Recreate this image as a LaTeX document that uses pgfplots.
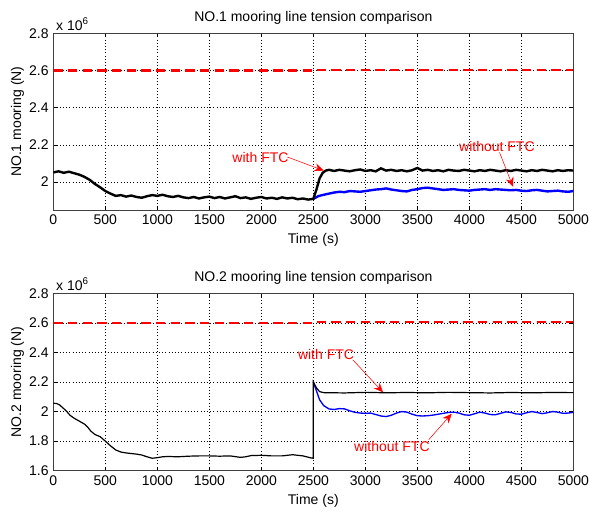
\documentclass[border=0pt]{standalone}
\usepackage{pgfplots}
\pgfplotsset{compat=1.18}
\usepackage{fontspec}
\setmainfont{Liberation Sans}
\usetikzlibrary{arrows.meta}

% data in units of 10^6 N
\pgfplotstableread{
t v
0 2.052
50 2.058
100 2.050
150 2.056
200 2.048
250 2.040
300 2.028
350 2.012
400 1.990
450 1.972
500 1.952
550 1.938
600 1.926
650 1.930
700 1.922
750 1.928
800 1.920
850 1.916
900 1.924
950 1.930
1000 1.926
1050 1.932
1100 1.924
1150 1.920
1200 1.926
1250 1.918
1300 1.914
1350 1.920
1400 1.912
1450 1.918
1500 1.922
1550 1.914
1600 1.920
1650 1.912
1700 1.918
1750 1.924
1800 1.914
1850 1.918
1900 1.910
1950 1.916
2000 1.920
2050 1.912
2100 1.916
2150 1.910
2200 1.918
2250 1.912
2300 1.916
2350 1.908
2400 1.912
2450 1.906
2500 1.910
2530 1.960
2560 2.020
2590 2.050
2620 2.062
2650 2.066
2700 2.060
2750 2.066
2800 2.062
2850 2.058
2900 2.064
2950 2.068
3000 2.060
3050 2.064
3100 2.058
3150 2.074
3200 2.062
3250 2.066
3300 2.060
3350 2.064
3400 2.058
3450 2.064
3500 2.076
3550 2.062
3600 2.066
3650 2.060
3700 2.064
3750 2.058
3800 2.066
3850 2.062
3900 2.060
3950 2.066
4000 2.062
4050 2.058
4100 2.064
4150 2.060
4200 2.066
4250 2.062
4300 2.058
4350 2.064
4400 2.060
4450 2.066
4500 2.062
4550 2.058
4600 2.064
4650 2.060
4700 2.066
4750 2.062
4800 2.058
4850 2.064
4900 2.060
4950 2.064
5000 2.062
}\topblack

\pgfplotstableread{
t v
2500 1.910
2550 1.925
2600 1.932
2650 1.938
2700 1.944
2750 1.948
2800 1.946
2850 1.952
2900 1.950
2950 1.948
3000 1.952
3050 1.956
3100 1.960
3150 1.962
3200 1.966
3250 1.960
3300 1.956
3350 1.952
3400 1.950
3450 1.958
3500 1.962
3550 1.968
3600 1.970
3650 1.966
3700 1.962
3750 1.958
3800 1.960
3850 1.962
3900 1.958
3950 1.956
4000 1.954
4050 1.958
4100 1.960
4150 1.962
4200 1.958
4250 1.962
4300 1.960
4350 1.958
4400 1.956
4450 1.958
4500 1.954
4550 1.952
4600 1.956
4650 1.958
4700 1.954
4750 1.950
4800 1.952
4850 1.954
4900 1.950
4950 1.948
5000 1.952
}\topblue

\pgfplotstableread{
t v
0 2.056
30 2.055
60 2.045
100 2.020
130 2.000
160 1.975
200 1.955
250 1.935
300 1.915
330 1.895
360 1.868
400 1.845
450 1.830
500 1.800
550 1.768
600 1.740
650 1.726
700 1.720
750 1.716
800 1.712
850 1.706
900 1.694
950 1.684
1000 1.688
1050 1.694
1100 1.696
1200 1.694
1300 1.698
1400 1.700
1500 1.700
1600 1.698
1700 1.700
1800 1.690
1850 1.694
1900 1.702
2000 1.704
2100 1.700
2200 1.700
2300 1.708
2400 1.700
2480 1.686
2500 1.684
2500 2.200
2530 2.160
2560 2.135
2600 2.128
2800 2.126
3000 2.130
3200 2.127
3400 2.129
3600 2.127
3800 2.130
4000 2.128
4200 2.126
4400 2.129
4600 2.127
4800 2.129
5000 2.128
}\botblack

\pgfplotstableread{
t v
2500 2.200
2530 2.140
2560 2.080
2600 2.040
2650 2.018
2700 2.014
2750 2.020
2800 2.018
2850 2.005
2900 1.995
2950 1.990
3000 1.988
3050 1.990
3100 1.980
3150 1.970
3200 1.966
3250 1.975
3300 1.990
3350 2.000
3400 1.996
3450 1.982
3500 1.972
3550 1.970
3600 1.972
3650 1.976
3700 1.982
3750 1.988
3800 1.994
3850 1.996
3900 1.990
3950 1.978
4000 1.975
4050 1.985
4100 1.996
4150 1.990
4200 1.980
4250 1.978
4300 1.988
4350 1.998
4400 1.994
4450 1.984
4500 1.982
4550 1.992
4600 2.000
4650 1.994
4700 1.986
4750 1.992
4800 2.000
4850 1.996
4900 1.988
4950 1.990
5000 1.994
}\botblue

\definecolor{mred}{rgb}{1,0,0}
\tikzset{
  ann/.style={mred, line width=0.4pt, -{Stealth[length=7pt,width=6pt]}},
}
\pgfplotsset{
  mlab/.style={
    scale only axis, width=390pt, height=132.5pt,
    xmin=0, xmax=5000, xtick={0,500,...,5000},
    font=\fontsize{10.5}{12}\selectfont,
    /pgf/number format/assume math mode=true,
    /pgf/number format/1000 sep={},
    grid=major,
    major grid style={black, dash pattern=on 0.6pt off 1.8pt, line width=0.4pt},
    tick style={black, line width=0.4pt},
    major tick length=3pt,
    axis line style={black!75, line width=0.6pt},
    xlabel={Time (s)},
    xlabel style={yshift=0pt},
    ylabel style={yshift=-3pt},
    title style={yshift=-3pt},
    every axis title/.append style={font=\fontsize{10.5}{12}\selectfont},
    clip mode=individual,
  },
}

\begin{document}
\begin{tikzpicture}
\useasboundingbox (-40pt,-225.75pt) rectangle (401.75pt,157.5pt);

\begin{axis}[mlab, at={(0,0)},
  ymin=1.85, ymax=2.8,
  ytick={2,2.2,2.4,2.6,2.8},
  yticklabels={2,2.2,2.4,2.6,2.8},
  ylabel={NO.1 mooring (N)},
  title={NO.1 mooring line tension comparison}]
\addplot[color=mred, line width=1.8pt, dash pattern={on 7pt off 4pt}] coordinates {(0,2.6) (2500,2.6) (2500,2.604) (5000,2.604)};
\addplot[blue, line width=1.8pt] table[x=t,y=v] {\topblue};
\addplot[black, line width=1.8pt] table[x=t,y=v] {\topblack};
\node[mred, anchor=west, inner sep=0pt] at (axis cs:1720,2.135) {with FTC};
\draw[ann] (axis cs:2250,2.135) -- (axis cs:2600,2.062);
\node[mred, anchor=west, inner sep=0pt] at (axis cs:3900,2.19) {without FTC};
\draw[ann] (axis cs:4290,2.16) -- (axis cs:4420,1.975);
\node[anchor=south west, inner sep=0pt] at (rel axis cs:0.005,1.015) {x 10\textsuperscript{6}};
\end{axis}

\begin{axis}[mlab, at={(0,-195.5pt)}, height=133pt,
  ymin=1.6, ymax=2.8,
  ytick={1.6,1.8,2,2.2,2.4,2.6,2.8},
  yticklabels={1.6,1.8,2,2.2,2.4,2.6,2.8},
  ylabel={NO.2 mooring (N)},
  title={NO.2 mooring line tension comparison}]
\addplot[color=mred, line width=1.8pt, dash pattern={on 7pt off 4pt}] coordinates {(0,2.6) (2500,2.6) (2500,2.605) (5000,2.605)};
\addplot[blue, line width=1pt] table[x=t,y=v] {\botblue};
\addplot[black, line width=0.9pt] table[x=t,y=v] {\botblack};
\node[mred, anchor=west, inner sep=0pt] at (axis cs:2350,2.387) {with FTC};
\draw[ann] (axis cs:2880,2.35) -- (axis cs:3170,2.13);
\node[mred, anchor=west, inner sep=0pt] at (axis cs:2890,1.762) {without FTC};
\draw[ann] (axis cs:3610,1.81) -- (axis cs:3830,1.985);
\node[anchor=south west, inner sep=0pt] at (rel axis cs:0.005,1.015) {x 10\textsuperscript{6}};
\end{axis}
\end{tikzpicture}
\end{document}
